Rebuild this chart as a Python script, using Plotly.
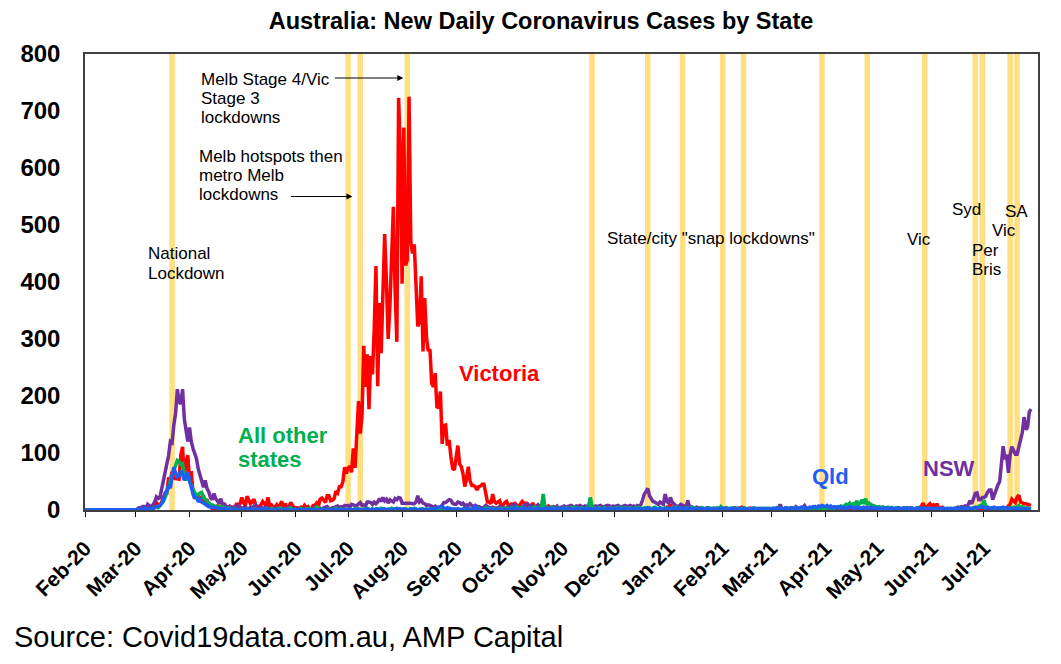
import pandas as pd
import plotly.graph_objects as go

# daily new cases, 1 Feb 2020 .. 28 Jul 2021 (one row per month)
dates = pd.date_range("2020-02-01", "2021-07-28", freq="D")

victoria = [
    0, 0, 0, 0, 0, 0, 0, 0, 0, 0, 0, 0, 0, 0, 0, 0, 0, 0, 0, 0, 0, 0, 0, 0, 0, 0, 0, 0, 1,
    1, 1, 1, 1, 0, 1, 0, 2, 4, 3, 3, 6, 13, 9, 8, 14, 23, 27, 29, 57, 51, 67, 56, 55, 54, 54, 96, 111, 56, 84, 96,
    51, 68, 30, 20, 29, 20, 21, 13, 26, 14, 19, 8, 7, 2, 4, 1, 7, 7, 3, 3, 12, 1, 3, 2, 5, 5, 1, 12, 7, 11,
    22, 13, 7, 24, 17, 11, 14, 19, 8, 5, 6, 9, 15, 10, 7, 22, 7, 9, 5, 4, 9, 4, 10, 15, 4, 11, 4, 4, 13, 8, 4,
    4, 4, 2, 5, 2, 8, 4, 6, 2, 3, 8, 8, 12, 7, 19, 21, 18, 13, 25, 25, 16, 17, 20, 33, 30, 41, 41, 49, 75, 64,
    73, 77, 66, 108, 74, 127, 191, 134, 165, 288, 216, 273, 177, 270, 238, 317, 428, 217, 363, 275,
    374, 484, 403, 300, 357, 459, 532, 384, 295, 723, 627,
    397, 671, 429, 439, 725, 471, 450, 466, 394, 322, 331, 410, 278, 372, 303, 279, 282, 222, 216, 240,
    179, 182, 208, 116, 148, 149, 113, 123, 94, 73, 70,
    90, 113, 81, 76, 63, 41, 55, 76, 51, 43, 43, 41, 35, 41, 42, 45, 45, 28, 14, 14, 11, 28, 15, 12, 14, 16, 5, 10, 13, 15,
    8, 7, 12, 6, 11, 8, 5, 11, 15, 12, 12, 4, 3, 6, 12, 6, 2, 1, 1, 2, 1, 3, 3, 7, 5, 0, 3, 1, 2, 0, 0,
    0, 0, 0, 0, 0, 0, 0, 0, 0, 0, 0, 0, 0, 0, 0, 0, 0, 0, 0, 0, 0, 0, 0, 0, 0, 0, 0, 0, 0, 0,
    0, 0, 0, 0, 0, 0, 0, 0, 0, 0, 0, 0, 0, 0, 0, 0, 0, 0, 0, 0, 0, 0, 0, 0, 0, 0, 0, 0, 0, 3, 5,
    3, 10, 3, 3, 2, 1, 0, 1, 0, 0, 0, 0, 0, 0, 0, 0, 0, 0, 0, 0, 0, 0, 0, 0, 0, 0, 0, 0, 0, 0, 0,
    0, 0, 1, 0, 0, 0, 0, 0, 0, 3, 3, 5, 2, 2, 1, 1, 3, 0, 0, 1, 0, 0, 0, 0, 0, 0, 0, 0,
    0, 0, 0, 0, 0, 0, 0, 0, 0, 0, 0, 0, 0, 0, 0, 0, 0, 0, 0, 0, 0, 0, 0, 0, 0, 0, 0, 0, 0, 0, 0,
    0, 0, 0, 0, 0, 0, 0, 0, 0, 0, 0, 0, 0, 0, 0, 0, 0, 0, 0, 0, 0, 0, 0, 0, 0, 0, 0, 0, 0, 0,
    0, 0, 0, 0, 0, 0, 0, 0, 0, 0, 0, 0, 0, 0, 0, 0, 0, 0, 0, 0, 0, 0, 0, 1, 4, 6, 12, 4, 5, 9, 11,
    7, 9, 4, 11, 3, 4, 5, 2, 1, 2, 0, 2, 0, 0, 1, 0, 1, 0, 0, 0, 0, 0, 2, 0, 0, 0, 0, 0, 0, 0,
    0, 0, 0, 0, 0, 0, 0, 0, 0, 0, 0, 0, 4, 3, 7, 10, 19, 16, 13, 22, 26, 14, 12, 11, 11, 10, 10, 8,
]

nsw = [
    0, 0, 0, 0, 0, 0, 0, 0, 0, 0, 0, 0, 0, 0, 0, 0, 0, 0, 0, 0, 0, 0, 0, 0, 0, 0, 0, 1, 0,
    0, 2, 4, 3, 6, 6, 2, 10, 8, 5, 9, 14, 23, 20, 22, 37, 50, 65, 82, 96, 120, 118, 149, 170, 212, 190, 186, 212, 160, 140, 120,
    145, 120, 108, 100, 90, 72, 60, 52, 40, 52, 38, 32, 22, 18, 29, 20, 15, 12, 20, 8, 10, 6, 5, 7, 5, 3, 6, 4, 8, 5,
    3, 4, 5, 3, 2, 5, 4, 7, 9, 3, 4, 5, 3, 4, 5, 2, 3, 1, 2, 3, 4, 2, 3, 1, 3, 2, 4, 5, 2, 3, 1,
    3, 2, 1, 2, 1, 3, 1, 2, 3, 2, 1, 5, 4, 2, 3, 1, 4, 5, 6, 3, 2, 4, 3, 6, 7, 4, 6, 5, 8, 7,
    8, 5, 10, 9, 7, 8, 10, 13, 8, 9, 7, 14, 14, 13, 10, 14, 11, 14, 20, 15, 22, 16, 19, 12, 18, 16, 14, 20, 18, 22, 21,
    12, 12, 13, 12, 12, 12, 11, 11, 14, 25, 14, 17, 12, 11, 8, 9, 8, 6, 5, 7, 5, 3, 4, 8, 13, 13, 16, 18, 17, 12, 10,
    10, 14, 13, 10, 12, 7, 9, 8, 11, 8, 6, 8, 6, 6, 5, 3, 5, 8, 6, 4, 3, 5, 4, 3, 4, 6, 2, 4, 3, 5,
    6, 5, 7, 10, 8, 6, 5, 4, 6, 8, 10, 11, 8, 7, 7, 4, 6, 9, 5, 7, 13, 6, 5, 4, 3, 5, 6, 4, 7, 3, 4,
    6, 7, 5, 6, 7, 8, 6, 5, 7, 6, 8, 6, 5, 7, 6, 8, 9, 6, 5, 7, 6, 7, 8, 5, 6, 7, 8, 7, 6, 7,
    6, 7, 8, 6, 5, 7, 8, 6, 7, 8, 6, 7, 5, 8, 7, 9, 17, 28, 32, 38, 25, 20, 15, 14, 12, 10, 14, 12, 10, 28, 15,
    12, 22, 14, 10, 8, 6, 7, 10, 8, 6, 5, 17, 5, 6, 4, 3, 5, 4, 3, 2, 3, 2, 4, 2, 3, 2, 3, 2, 3, 2, 3,
    2, 3, 4, 2, 3, 2, 3, 4, 2, 3, 2, 3, 2, 1, 2, 3, 2, 1, 2, 3, 2, 1, 2, 3, 2, 1, 2, 3,
    2, 3, 2, 1, 2, 10, 2, 1, 3, 2, 2, 4, 3, 2, 6, 3, 2, 4, 5, 8, 3, 2, 4, 3, 5, 6, 2, 3, 4, 3, 2,
    3, 2, 4, 3, 2, 4, 3, 2, 5, 3, 4, 2, 3, 5, 4, 3, 2, 4, 3, 2, 3, 4, 2, 3, 5, 4, 3, 2, 4, 3,
    2, 3, 4, 5, 3, 4, 2, 3, 4, 3, 2, 4, 3, 2, 3, 4, 2, 3, 2, 4, 3, 2, 3, 4, 2, 3, 2, 4, 3, 2, 3,
    2, 1, 3, 2, 1, 2, 3, 2, 1, 2, 1, 2, 1, 2, 3, 5, 4, 6, 5, 7, 4, 10, 16, 11, 22, 29, 30, 18, 18, 22,
    22, 24, 31, 35, 35, 18, 27, 38, 44, 50, 77, 112, 89, 97, 65, 97, 111, 105, 98, 98, 110, 124, 136, 163, 141, 145, 172, 177,
]

qld = [
    0, 0, 0, 0, 0, 0, 0, 0, 0, 0, 0, 0, 0, 0, 0, 0, 0, 0, 0, 0, 0, 0, 0, 0, 0, 0, 0, 0, 1,
    0, 0, 1, 2, 0, 3, 1, 2, 2, 3, 2, 4, 5, 6, 8, 12, 18, 30, 34, 45, 38, 60, 75, 65, 58, 60, 69, 62, 52, 60, 66,
    52, 37, 28, 20, 24, 14, 18, 14, 12, 9, 8, 6, 5, 4, 5, 4, 3, 2, 3, 2, 3, 2, 1, 2, 1, 2, 1, 0, 1, 0,
    1, 0, 2, 1, 0, 1, 2, 0, 1, 0, 1, 0, 1, 2, 0, 1, 0, 0, 1, 0, 1, 0, 1, 0, 0, 1, 0, 1, 0, 0, 1,
    0, 1, 0, 0, 1, 0, 1, 0, 0, 1, 0, 0, 1, 0, 1, 0, 0, 1, 0, 0, 1, 0, 0, 1, 0, 0, 1, 0, 1, 0,
    1, 0, 1, 0, 1, 2, 0, 1, 0, 1, 0, 2, 1, 0, 1, 0, 1, 2, 1, 0, 1, 2, 0, 1, 0, 1, 0, 2, 3, 1, 2,
    1, 2, 1, 0, 1, 2, 0, 1, 2, 0, 1, 0, 2, 1, 0, 1, 2, 0, 1, 2, 3, 4, 6, 5, 3, 2, 4, 3, 2, 1, 2,
    1, 2, 1, 0, 2, 1, 3, 1, 2, 1, 2, 6, 3, 1, 2, 1, 2, 1, 0, 1, 2, 1, 0, 1, 2, 1, 0, 1, 2, 1,
    1, 2, 1, 2, 3, 1, 2, 1, 2, 3, 1, 2, 3, 1, 2, 1, 2, 3, 2, 1, 2, 3, 1, 2, 3, 2, 1, 2, 3, 1, 2,
    2, 3, 1, 2, 3, 2, 1, 2, 3, 2, 1, 2, 3, 2, 1, 3, 2, 1, 2, 3, 2, 1, 2, 3, 2, 1, 2, 3, 2, 1,
    2, 1, 3, 2, 1, 2, 3, 2, 1, 2, 3, 2, 1, 2, 3, 2, 1, 2, 3, 4, 2, 1, 2, 3, 2, 1, 3, 2, 1, 2, 3,
    2, 3, 2, 4, 3, 2, 3, 4, 3, 2, 3, 2, 3, 2, 3, 2, 1, 2, 3, 2, 1, 2, 3, 2, 1, 2, 3, 2, 1, 2, 3,
    2, 3, 2, 1, 2, 3, 2, 1, 2, 3, 2, 1, 2, 3, 2, 1, 2, 3, 2, 1, 2, 3, 2, 1, 2, 3, 2, 1,
    2, 3, 2, 4, 3, 2, 3, 2, 4, 3, 2, 3, 4, 3, 2, 4, 3, 5, 4, 3, 4, 3, 5, 4, 6, 5, 4, 7, 6, 8, 7,
    6, 8, 5, 7, 4, 6, 5, 4, 6, 5, 4, 5, 3, 4, 6, 5, 4, 3, 5, 4, 3, 4, 5, 3, 4, 3, 5, 4, 3, 4,
    3, 4, 3, 2, 4, 3, 2, 3, 4, 2, 3, 2, 4, 3, 2, 3, 2, 4, 3, 2, 3, 2, 3, 2, 4, 3, 2, 3, 2, 3, 2,
    2, 3, 2, 3, 2, 3, 2, 3, 2, 3, 2, 3, 2, 3, 2, 3, 2, 4, 3, 2, 3, 4, 3, 2, 4, 5, 3, 4, 5, 6,
    4, 3, 5, 4, 3, 4, 5, 3, 4, 3, 4, 5, 3, 4, 3, 2, 3, 2, 3, 2, 3, 2, 1, 2, 3, 2, 1, 2,
]

other_states = [
    0, 0, 0, 0, 0, 0, 0, 0, 0, 0, 0, 0, 0, 0, 0, 0, 0, 0, 0, 0, 0, 0, 0, 0, 0, 0, 0, 0, 1,
    0, 0, 1, 1, 0, 1, 2, 1, 2, 2, 3, 4, 5, 4, 8, 10, 15, 22, 30, 40, 52, 60, 72, 80, 87, 85, 80, 81, 60, 52, 66,
    50, 42, 37, 30, 28, 25, 30, 31, 22, 19, 14, 12, 10, 9, 8, 6, 7, 5, 4, 6, 3, 2, 4, 3, 2, 1, 2, 1, 0, 1,
    1, 0, 1, 2, 0, 1, 0, 2, 1, 0, 1, 0, 0, 1, 2, 1, 0, 3, 1, 0, 1, 2, 3, 1, 1, 0, 1, 2, 4, 1, 0,
    1, 0, 1, 3, 1, 0, 2, 1, 3, 1, 0, 2, 5, 1, 0, 2, 1, 0, 1, 2, 1, 0, 1, 3, 1, 0, 2, 1, 0, 1,
    1, 2, 1, 0, 3, 1, 2, 1, 0, 2, 1, 3, 1, 0, 2, 1, 2, 1, 0, 3, 2, 1, 0, 2, 1, 3, 2, 1, 0, 2, 1,
    1, 0, 2, 1, 0, 2, 1, 3, 1, 0, 1, 2, 1, 0, 2, 1, 0, 1, 2, 1, 0, 2, 1, 0, 1, 2, 1, 0, 2, 1, 0,
    1, 2, 1, 0, 2, 1, 3, 1, 2, 0, 1, 2, 1, 3, 0, 1, 2, 4, 1, 2, 3, 1, 2, 1, 0, 2, 3, 1, 2, 4,
    2, 3, 4, 2, 3, 5, 2, 3, 4, 2, 3, 2, 4, 3, 2, 5, 3, 2, 4, 6, 28, 5, 4, 2, 3, 5, 2, 3, 4, 2, 3,
    3, 2, 4, 3, 2, 4, 3, 5, 4, 3, 2, 4, 3, 2, 4, 6, 22, 8, 4, 3, 2, 4, 3, 2, 4, 3, 2, 3, 4, 2,
    2, 4, 3, 5, 3, 2, 4, 3, 2, 4, 3, 2, 4, 3, 5, 2, 3, 4, 2, 3, 4, 2, 3, 5, 3, 2, 4, 3, 2, 4, 3,
    3, 2, 4, 3, 5, 2, 3, 4, 3, 2, 4, 3, 2, 5, 3, 4, 2, 3, 2, 4, 3, 2, 3, 4, 2, 3, 2, 3, 4, 2, 6,
    3, 2, 4, 3, 2, 3, 4, 2, 3, 2, 3, 2, 4, 3, 2, 3, 2, 3, 4, 2, 3, 2, 3, 2, 3, 2, 3, 2,
    2, 3, 2, 3, 4, 2, 3, 2, 3, 4, 2, 3, 2, 3, 4, 2, 3, 2, 3, 4, 3, 2, 3, 4, 2, 3, 2, 3, 4, 3, 2,
    3, 4, 3, 5, 4, 3, 5, 6, 4, 7, 5, 8, 10, 9, 12, 8, 11, 10, 16, 9, 12, 18, 11, 20, 10, 12, 9, 8, 7, 6,
    5, 6, 4, 5, 3, 4, 5, 3, 4, 2, 3, 4, 2, 3, 2, 3, 4, 2, 3, 2, 3, 2, 3, 4, 2, 3, 2, 3, 2, 3, 2,
    2, 3, 2, 3, 2, 3, 2, 3, 2, 3, 2, 3, 2, 3, 2, 3, 2, 3, 2, 3, 2, 3, 2, 3, 4, 3, 5, 6, 8, 7,
    17, 6, 5, 4, 3, 4, 3, 2, 3, 4, 3, 2, 3, 2, 3, 4, 3, 5, 4, 6, 8, 5, 6, 4, 3, 4, 3, 2,
]

# lockdown start dates (yellow vertical lines)
lockdowns = [
    "2020-03-22", "2020-07-01", "2020-07-08", "2020-08-04", "2020-11-18",
    "2020-12-20", "2021-01-09", "2021-02-01", "2021-02-13", "2021-03-30",
    "2021-04-25", "2021-05-28", "2021-06-26", "2021-06-30", "2021-07-16",
    "2021-07-20",
]

month_ticks = pd.date_range("2020-02-01", "2021-07-01", freq="MS")

for name, s in [("victoria", victoria), ("nsw", nsw), ("qld", qld), ("other", other_states)]:
    assert len(s) == len(dates), (name, len(s), len(dates))

FONT = "Liberation Sans, Arial, sans-serif"
PAGE_OFF = 8  # the page body margin shifts the figure by 8px
W, H = 1061 - PAGE_OFF, 664 - PAGE_OFF
ML, MR, MT, MB = 83 - PAGE_OFF, 23, 54 - PAGE_OFF, 154


def paper(x, y):
    # position in the reference picture -> paper coordinates
    x, y = x - PAGE_OFF, y - PAGE_OFF
    return (x - ML) / (W - ML - MR), (H - MB - y) / (H - MT - MB)


fig = go.Figure()

for d in lockdowns:
    fig.add_shape(type="line", x0=d, x1=d, y0=0, y1=1, xref="x", yref="paper",
                  line=dict(color="#FFDF80", width=5.5), layer="below")

series = [
    ("Victoria", victoria, "#FF0000"),
    ("NSW", nsw, "#7030A0"),
    ("All other states", other_states, "#00B050"),
    ("Qld", qld, "#1F5EF5"),
]
for name, vals, col in series:
    fig.add_scatter(x=dates, y=vals, mode="lines", name=name,
                    line=dict(color=col, width=3.5))

# plain notes
notes = [
    ("Melb Stage 4/Vic", 199, 79),
    ("Stage 3", 199, 98.5),
    ("lockdowns", 199, 117),
    ("Melb hotspots then", 197, 156.5),
    ("metro Melb", 197, 175.5),
    ("lockdowns", 197, 194.5),
    ("National", 146, 253.5),
    ("Lockdown", 146, 273),
    ('State/city "snap lockdowns"', 606, 238),
    ("Vic", 907, 239.5),
    ("Syd", 952, 209),
    ("SA", 1005, 211),
    ("Vic", 992, 230.5),
    ("Per", 971.5, 250.5),
    ("Bris", 971.5, 269.5),
]
for txt, x, y in notes:
    px, py = paper(x - 2, y)
    fig.add_annotation(text=txt, x=px, y=py, xref="paper", yref="paper",
                       xanchor="left", yanchor="middle", showarrow=False,
                       font=dict(family=FONT, size=17, color="black"))

# series labels
labels = [
    ("Victoria", 458, 373, "#FF0000"),
    ("All other", 236, 435.5, "#00B050"),
    ("states", 236, 459.5, "#00B050"),
    ("Qld", 812, 476, "#1F5EF5"),
    ("NSW", 923, 468.5, "#7030A0"),
]
for txt, x, y, col in labels:
    px, py = paper(x - 2, y)
    fig.add_annotation(text=txt, x=px, y=py, xref="paper", yref="paper",
                       xanchor="left", yanchor="middle", showarrow=False,
                       font=dict(family=FONT, size=22, color=col, weight="bold"))

# arrows
for tip_x, tip_y, tail_x in [(402, 78, 332), (351, 196.5, 288)]:
    px, py = paper(tip_x, tip_y)
    fig.add_annotation(text="", x=px, y=py, xref="paper", yref="paper",
                       ax=tail_x - tip_x, ay=0, showarrow=True, arrowhead=2,
                       arrowsize=1.2, arrowwidth=1, arrowcolor="black")

sx, sy = paper(10, 637)
fig.add_annotation(text="Source: Covid19data.com.au, AMP Capital", x=sx, y=sy,
                   xref="paper", yref="paper", xanchor="left", yanchor="middle",
                   showarrow=False, font=dict(family=FONT, size=29, color="black"))

fig.update_layout(
    width=W, height=H,
    margin=dict(l=ML, r=MR, t=MT, b=MB),
    paper_bgcolor="white", plot_bgcolor="white",
    showlegend=False,
    font=dict(family=FONT, color="black"),
    title=dict(text="Australia: New Daily Coronavirus Cases by State",
               x=(541 - PAGE_OFF) / W, xref="container", xanchor="center",
               y=1 - (20.5 - PAGE_OFF) / H, yref="container", yanchor="middle",
               font=dict(family=FONT, size=23.5, color="black", weight="bold")),
    xaxis=dict(
        type="date", range=["2020-02-01", "2021-08-01"],
        tickvals=month_ticks, tickformat="%b-%y", tickangle=-45,
        tickfont=dict(family=FONT, size=21, color="black", weight="bold"),
        ticks="outside", ticklen=5, tickcolor="black", ticklabelstandoff=11,
        showline=True, linecolor="#404040", linewidth=1.5, mirror=True,
        showgrid=False, zeroline=False,
    ),
    yaxis=dict(
        range=[0, 800], dtick=100,
        tickfont=dict(family=FONT, size=24, color="black", weight="bold"),
        ticks="", ticklabelstandoff=18,
        showline=True, linecolor="#404040", linewidth=1.5, mirror=True,
        showgrid=False, zeroline=False,
    ),
)

fig.write_html("out.html")
